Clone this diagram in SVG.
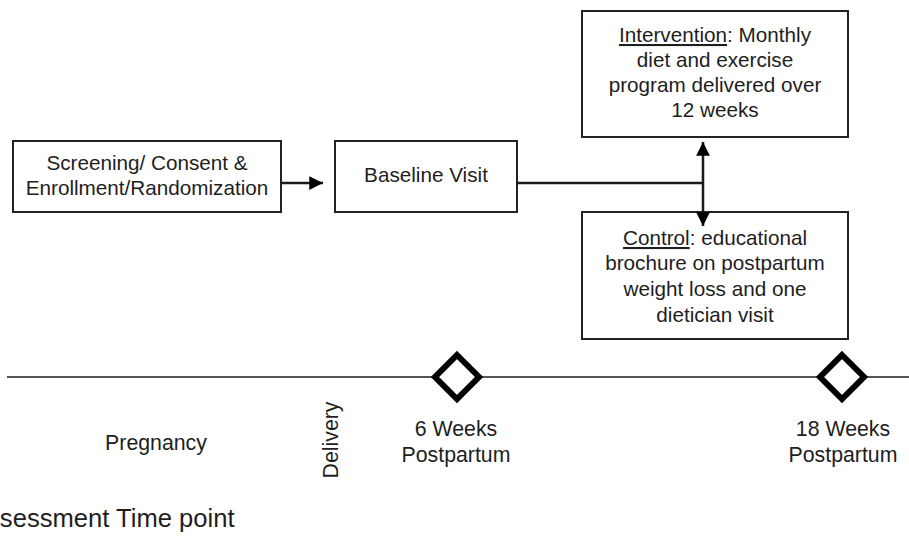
<svg xmlns="http://www.w3.org/2000/svg" width="909" height="542" viewBox="0 0 909 542">
<defs>
<style>
.box{fill:#fff;stroke:#222;stroke-width:2}
.t{font-family:"Liberation Sans",Arial,sans-serif;font-size:20.7px;fill:#1e1e1e;text-anchor:middle}
.tl{font-size:21.3px}
.c{stroke:#1a1a1a;stroke-width:2.5;fill:none}
.dia{fill:#fff;stroke:#000;stroke-width:6;stroke-linejoin:miter}
</style>
<marker id="ah" viewBox="0 0 10 10" refX="10" refY="5" markerWidth="5.5" markerHeight="5.5" markerUnits="strokeWidth" orient="auto">
<path d="M0,0 L10,5 L0,10 Z" fill="#000"/>
</marker>
</defs>
<rect width="909" height="542" fill="#fff"/>
<g id="screening">
<rect class="box" x="13" y="141" width="268" height="71"/>
<text class="t" x="147" y="170">Screening/ Consent &amp;</text>
<text class="t" x="147" y="195">Enrollment/Randomization</text>
</g>
<g id="baseline">
<rect class="box" x="335" y="141" width="182" height="71"/>
<text class="t" x="426" y="182">Baseline Visit</text>
</g>
<g id="intervention">
<rect class="box" x="582" y="11" width="266" height="126"/>
<text class="t" x="715" y="42"><tspan text-decoration="underline">Intervention</tspan>: Monthly</text>
<text class="t" x="715" y="67">diet and exercise</text>
<text class="t" x="715" y="92">program delivered over</text>
<text class="t" x="715" y="117">12 weeks</text>
</g>
<g id="control">
<rect class="box" x="582" y="212" width="266" height="127"/>
<text class="t" x="715" y="245"><tspan text-decoration="underline">Control</tspan>: educational</text>
<text class="t" x="715" y="270">brochure on postpartum</text>
<text class="t" x="715" y="296">weight loss and one</text>
<text class="t" x="715" y="322">dietician visit</text>
</g>
<g id="connectors">
<line class="c" x1="281" y1="183" x2="323" y2="183" marker-end="url(#ah)"/>
<polyline class="c" points="517,183 703,183"/>
<line class="c" x1="703" y1="183" x2="703" y2="142" marker-end="url(#ah)"/>
<line class="c" x1="703" y1="183" x2="703" y2="226" marker-end="url(#ah)"/>
</g>
<g id="timeline">
<line x1="7" y1="377" x2="909" y2="377" stroke="#555" stroke-width="2"/>
</g>
<g id="t6">
<polygon class="dia" points="457,355 479,377 457,399 435,377"/>
<text class="t tl" x="456" y="436">6 Weeks</text>
<text class="t tl" x="456" y="462">Postpartum</text>
</g>
<g id="t18">
<polygon class="dia" points="842,355 864,377 842,399 820,377"/>
<text class="t tl" x="843" y="436">18 Weeks</text>
<text class="t tl" x="843" y="462">Postpartum</text>
</g>
<g id="labels">
<text class="t tl" x="156" y="450">Pregnancy</text>
<text class="t tl" transform="translate(338,440) rotate(-90)">Delivery</text>
<text class="t" x="-30" y="527" style="text-anchor:start;font-size:25.6px">Assessment Time point</text>
</g>
</svg>
